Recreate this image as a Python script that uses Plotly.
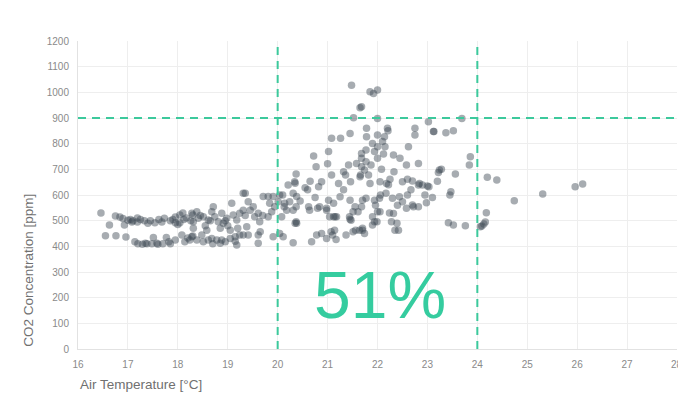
import plotly.graph_objects as go

temp = [
16.46,16.63,16.55,16.76,16.96,16.75,16.84,16.93,17.0,17.1,17.19,17.19,17.33,17.45,17.54,
17.14,17.2,17.29,17.38,17.48,17.51,17.6,17.7,17.77,17.85,17.73,17.85,17.95,18.04,18.1,
18.17,18.26,18.3,17.95,18.04,18.08,17.95,18.14,18.24,18.3,17.05,17.25,17.4,17.62,17.68,
17.9,18.0,18.12,17.35,17.58,17.82,18.2,16.9,17.08,
18.28,18.38,18.41,18.31,18.51,18.61,18.68,18.71,18.74,18.81,18.88,18.91,18.98,19.08,19.11,
19.18,19.24,19.31,19.35,19.31,19.41,19.45,19.51,19.54,19.61,19.64,19.71,19.81,19.84,19.91,
19.94,20.01,20.04,20.1,20.14,20.18,20.24,20.21,20.34,20.38,20.38,20.31,20.08,19.81,19.88,
18.28,18.38,18.48,18.51,18.61,18.68,18.78,18.88,18.95,19.05,19.15,19.18,19.24,19.31,19.41,
19.61,19.65,19.61,19.91,20.11,20.04,18.31,18.58,18.85,19.05,19.38,18.45,18.55,18.65,18.95,
19.0,19.2,18.7,18.85,19.15,19.35,19.7,
20.35,20.31,20.68,20.78,20.88,20.98,21.07,21.1,21.17,21.37,21.51,21.64,21.74,21.7,21.9,
21.99,22.42,22.39,22.72,22.82,22.05,22.32,21.44,21.47,21.12,21.18,21.51,21.68,20.98,20.84,
20.64,20.37,20.13,
21.48,21.65,21.52,21.08,21.26,21.45,20.72,21.02,20.77,21.0,20.37,20.65,20.35,20.88,21.08,
20.55,20.6,20.82,21.22,21.32,21.42,21.36,21.58,21.68,21.74,21.65,21.32,21.46,20.31,20.45,
20.75,20.62,20.8,21.02,21.12,20.98,21.25,21.45,21.55,21.7,21.61,21.04,21.15,21.45,20.37,
21.14,21.56,21.7,
21.85,22.0,21.92,21.68,22.0,21.78,21.78,22.0,22.14,22.2,22.21,22.1,22.0,22.15,21.9,
21.77,21.94,21.68,22.0,21.77,21.87,22.32,22.45,22.58,22.62,22.75,22.75,23.02,23.12,22.82,
23.03,21.68,21.66,21.82,21.85,22.05,22.18,22.25,22.33,22.5,22.6,22.7,22.84,21.77,21.94,
22.04,22.17,22.3,22.44,22.6,22.67,22.5,22.7,22.58,22.82,22.0,22.24,22.28,22.35,21.9,
21.94,22.08,22.12,22.22,22.4,21.96,22.06,
23.69,23.13,23.37,23.52,23.86,23.84,23.24,23.28,23.22,23.56,23.0,24.2,24.39,23.47,23.45,
24.74,25.31,25.96,26.11,24.18,23.42,23.52,23.76,24.09,24.13,24.16,24.06,22.9,23.2,22.95,
23.1,22.98,
]

co2 = [
530,483,441,441,436,518,514,483,502,500,510,495,500,500,492,
418,410,408,410,410,434,408,410,434,410,509,500,514,522,530,
510,500,522,492,492,444,425,418,425,440,505,505,490,505,495,
505,485,505,412,412,418,432,508,495,
529,535,509,496,515,503,535,554,515,496,529,490,509,568,522,
503,529,607,607,541,574,541,554,515,529,496,594,594,568,594,
554,574,600,600,568,541,574,639,652,594,490,541,515,515,535,
437,425,444,418,425,431,425,425,418,431,437,405,444,444,444,
444,457,412,437,437,450,470,463,470,463,476,520,480,500,500,
480,470,410,412,420,520,520,
490,414,418,444,450,431,457,444,427,444,457,463,450,470,483,
496,463,490,554,554,535,528,515,502,515,515,535,554,541,554,
541,554,554,
1028,940,901,821,821,840,752,769,710,722,682,654,646,652,678,
628,620,632,645,691,717,678,723,743,697,671,620,652,607,577,
590,554,548,580,568,548,593,580,554,580,535,515,515,506,496,
463,463,463,
1002,1009,995,944,898,860,827,834,827,860,850,808,788,788,801,
775,769,762,743,730,717,756,743,717,788,860,834,885,847,723,
632,710,678,678,645,652,645,661,691,652,661,655,645,587,580,
587,607,587,593,600,620,574,561,548,639,535,530,496,463,515,
496,700,760,640,560,560,600,
898,847,843,850,749,717,697,700,688,682,635,669,658,613,600,
578,604,632,643,531,492,483,480,479,487,495,476,639,654,600,
590,570,
]

TEAL = "#3cc99c"
GRID = "#eeeeee"
TICK_FONT = dict(family="Liberation Sans, Arial, sans-serif", size=10, color="#8a8a8a")
TITLE_FONT = dict(family="Liberation Sans, Arial, sans-serif", size=13.5, color="#707070")

fig = go.Figure()
fig.add_trace(go.Scatter(
    x=temp, y=co2, mode="markers",
    marker=dict(size=7.5, color="rgba(60,70,82,0.45)", line=dict(width=0)),
    hoverinfo="skip", showlegend=False,
))

# threshold lines
for xv in [20, 24]:
    fig.add_shape(type="line", xref="x", yref="y", x0=xv, x1=xv, y0=0, y1=1200,
                  line=dict(color=TEAL, width=2, dash="8px,6px"))
fig.add_shape(type="line", xref="x", yref="y", x0=16, x1=28, y0=900, y1=900,
              line=dict(color=TEAL, width=2, dash="8px,6px"))

fig.add_annotation(x=22.05, y=210, xref="x", yref="y", text="51%", showarrow=False,
                   font=dict(family="Liberation Sans, Arial, sans-serif", size=66, color="#35cc9f"))

# last x tick label (cut by the right edge, as in the reference)
fig.add_annotation(x=28, y=0, xref="x", yref="y", yshift=-15, text="28", showarrow=False,
                   font=TICK_FONT, xanchor="center", yanchor="middle")

fig.add_annotation(x=0, y=-0.085, xref="paper", yref="paper", xanchor="left", yanchor="top",
                   text="Air Temperature [°C]", showarrow=False, font=TITLE_FONT)
fig.add_annotation(x=-0.083, y=0, xref="paper", yref="paper", xanchor="center", yanchor="bottom",
                   text="CO2 Concentration [ppm]", textangle=-90, showarrow=False, font=TITLE_FONT)

fig.update_layout(
    width=678, height=394,
    margin=dict(l=78, r=1, t=41, b=45),
    paper_bgcolor="white", plot_bgcolor="white",
    xaxis=dict(range=[16, 28], dtick=1, tick0=16, showgrid=True, gridcolor=GRID,
               zeroline=False, showline=True, linecolor="#e2e2e2", tickfont=TICK_FONT,
               ticks="", automargin=False, ticklabelstandoff=6),
    yaxis=dict(range=[0, 1200], dtick=100, tick0=0, showgrid=True, gridcolor=GRID,
               zeroline=False, showline=True, linecolor="#e2e2e2", tickfont=TICK_FONT,
               ticks="", automargin=False, ticklabelstandoff=6),
)

fig.write_html("out.html", config={"displayModeBar": False},
               post_script="document.body.style.margin='0';document.body.style.overflow='hidden';")
